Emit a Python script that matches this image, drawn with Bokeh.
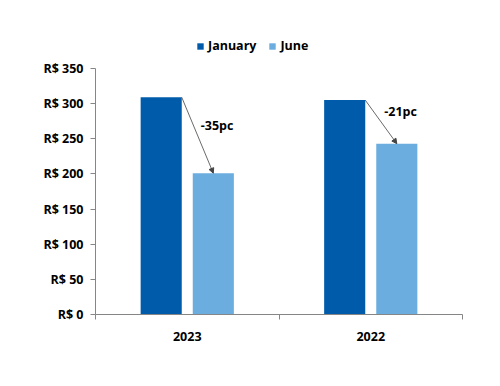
from bokeh.plotting import figure
from bokeh.models import (ColumnDataSource, FixedTicker, PrintfTickFormatter, Range1d,
                          Legend, LegendItem, Arrow, NormalHead)
from bokeh.embed import file_html
from bokeh.resources import INLINE
from bokeh.core.properties import value

years = ["2023", "2022"]
january = [309, 305]
june = [201, 243]
change_labels = ["-35pc", "-21pc"]
y_ticks = [0, 50, 100, 150, 200, 250, 300, 350]

FONT = "Open Sans"
FS = "12.5px"
JAN_C = "#005CAA"
JUN_C = "#6BADDF"

centers = [i + 0.5 for i in range(len(years))]
off = 0.142
w = 0.224
x_jan = [c - off for c in centers]
x_jun = [c + off for c in centers]

p = figure(width=492, height=378, output_backend="svg", toolbar_location=None,
           x_range=Range1d(0, len(years)), y_range=Range1d(0, 404),
           min_border_left=95, min_border_right=30, min_border_top=30, min_border_bottom=64)
p.outline_line_color = None
p.xgrid.visible = False
p.ygrid.visible = False

src_jan = ColumnDataSource(dict(x=x_jan, top=january))
src_jun = ColumnDataSource(dict(x=x_jun, top=june))
r1 = p.vbar(x="x", top="top", width=w, source=src_jan, fill_color=JAN_C, line_color=None)
r2 = p.vbar(x="x", top="top", width=w, source=src_jun, fill_color=JUN_C, line_color=None)

# arrows
for xj, yj, xu, yu in zip(x_jan, january, x_jun, june):
    p.add_layout(Arrow(x_start=xj + w / 2, y_start=yj, x_end=xu, y_end=yu,
                       line_color="#444444", line_width=0.8,
                       end=NormalHead(size=5, fill_color="#444444", line_color="#444444")))

lbl = ColumnDataSource(dict(x=[xj + w / 2 for xj in x_jan],
                            y=[(a + b) / 2 for a, b in zip(january, june)],
                            t=change_labels))
p.text(x="x", y="y", text="t", source=lbl, x_offset=19, y_offset=-10,
       text_font=value(FONT), text_font_style="bold", text_font_size=FS,
       text_baseline="middle", text_align="left", text_color="#000000")

# axes
p.xaxis.ticker = FixedTicker(ticks=centers, minor_ticks=[float(i) for i in range(len(years) + 1)])
p.xaxis.major_label_overrides = {c: y for c, y in zip(centers, years)}
p.xaxis.major_tick_line_color = None
p.xaxis.minor_tick_out = 5
p.xaxis.minor_tick_in = 0
p.xaxis.minor_tick_line_color = "#868686"
p.xaxis.axis_line_color = "#868686"
p.xaxis.major_label_text_font = FONT
p.xaxis.major_label_text_font_style = "bold"
p.xaxis.major_label_text_font_size = FS
p.xaxis.major_label_text_color = "#000000"
p.xaxis.major_label_standoff = 11

p.yaxis.ticker = FixedTicker(ticks=y_ticks)
p.yaxis.bounds = (0, 350)
p.yaxis.formatter = PrintfTickFormatter(format="R$ %d")
p.yaxis.axis_line_color = "#868686"
p.yaxis.major_tick_line_color = "#868686"
p.yaxis.major_tick_out = 5
p.yaxis.major_tick_in = 0
p.yaxis.minor_tick_line_color = None
p.yaxis.major_label_text_font = FONT
p.yaxis.major_label_text_font_style = "bold"
p.yaxis.major_label_text_font_size = FS
p.yaxis.major_label_text_color = "#000000"
p.yaxis.major_label_standoff = 7

legend = Legend(items=[LegendItem(label="January", renderers=[r1]),
                       LegendItem(label="June", renderers=[r2])],
                orientation="horizontal", location=(101, 260),
                glyph_width=8, glyph_height=8, spacing=12, padding=0, margin=0,
                label_standoff=4, border_line_color=None, background_fill_alpha=0,
                label_text_font=FONT, label_text_font_style="bold",
                label_text_font_size=FS, label_text_color="#000000", label_height=16)
p.add_layout(legend)

open("out.html", "w").write(file_html(p, INLINE))
